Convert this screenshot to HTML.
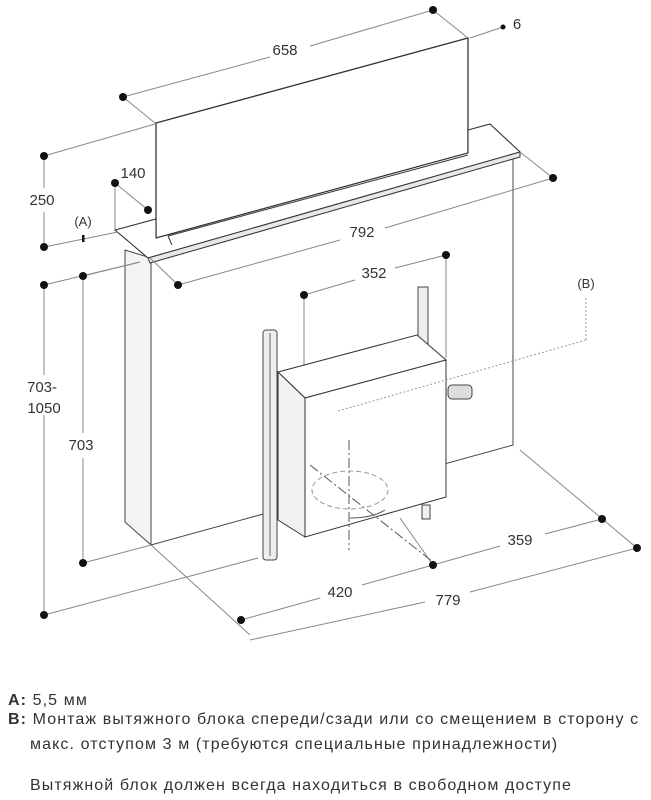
<!DOCTYPE html>
<html><head><meta charset="utf-8"><style>
body{margin:0;background:#fff;width:651px;height:800px;overflow:hidden;font-family:"Liberation Sans",sans-serif}
svg{position:absolute;left:0;top:0}
.t{position:absolute;left:8px;font-size:16px;letter-spacing:1.1px;color:#333;line-height:20px;white-space:nowrap}
</style></head><body>
<svg width="651" height="800" viewBox="0 0 651 800">
<!-- wall body -->
<polygon points="125,250 151,258 151,545 125,522" fill="#f3f3f3" stroke="#444"/>
<polygon points="151,258 513,158 513,445 151,545" fill="#fff" stroke="#444"/>
<!-- glass panel -->
<polygon points="156,123 468,38 468,153 156,238" fill="#fff" stroke="#333" stroke-width="1.3"/>
<!-- trim -->
<polygon points="115,230 156,219 156,238 468,153 468,130 490,124 520,152 148,258" fill="#fff" stroke="#333" stroke-width="1.1"/>
<polygon points="148,258 520,152 520,157 150,263" fill="#e8e8e8" stroke="#333" stroke-width="1"/>
<line x1="168" y1="236" x2="468" y2="155" stroke="#333"/>
<line x1="168" y1="236" x2="172" y2="245" stroke="#333"/>
<g stroke="#888" stroke-width="1" fill="none">
<line x1="123" y1="97" x2="270" y2="57"/><line x1="310" y1="46" x2="433" y2="10"/>
<line x1="123" y1="97" x2="155" y2="123"/><line x1="433" y1="10" x2="468" y2="38"/>
<line x1="470" y1="38" x2="503" y2="27"/>
<line x1="44" y1="156" x2="155" y2="124"/>
<line x1="44" y1="156" x2="44" y2="188"/><line x1="44" y1="212" x2="44" y2="247"/>
<line x1="44" y1="247" x2="118" y2="232"/>
<line x1="115" y1="183" x2="148" y2="210"/><line x1="115" y1="183" x2="115" y2="230"/>
<line x1="44" y1="285" x2="140" y2="262"/><line x1="83" y1="276" x2="140" y2="262"/>
<line x1="44" y1="285" x2="44" y2="375"/><line x1="44" y1="415" x2="44" y2="615"/>
<line x1="83" y1="276" x2="83" y2="433"/><line x1="83" y1="458" x2="83" y2="563"/>
<line x1="83" y1="563" x2="151" y2="545"/><line x1="44" y1="615" x2="258" y2="558"/>
<line x1="150" y1="258" x2="178" y2="285"/><line x1="178" y1="285" x2="340" y2="240"/><line x1="385" y1="228" x2="553" y2="178"/><line x1="520" y1="152" x2="553" y2="178"/>
<line x1="304" y1="295" x2="304" y2="398"/><line x1="304" y1="295" x2="355" y2="280"/><line x1="395" y1="268" x2="446" y2="255"/><line x1="446" y1="255" x2="446" y2="358"/>
<line x1="151" y1="545" x2="250" y2="635"/>
<line x1="241" y1="620" x2="320" y2="598"/><line x1="362" y1="585" x2="433" y2="565"/>
<line x1="433" y1="565" x2="500" y2="546"/><line x1="545" y1="534" x2="602" y2="519"/>
<line x1="520" y1="450" x2="637" y2="548"/>
<line x1="250" y1="640" x2="425" y2="602"/><line x1="470" y1="592" x2="637" y2="548"/>
<line x1="400" y1="518" x2="433" y2="565"/>
</g>
<g stroke="#999" stroke-width="1" fill="none" stroke-dasharray="2,2">
<line x1="586" y1="298" x2="586" y2="340"/><line x1="586" y1="340" x2="338" y2="411"/>
</g>
<!-- right rail -->
<rect x="418" y="287" width="10" height="60" fill="#eee" stroke="#444"/>
<!-- motor box -->
<polygon points="278,372 417,335 446,360 305,398" fill="#fff" stroke="#333"/>
<polygon points="278,372 305,398 305,537 278,520" fill="#f1f1f1" stroke="#333"/>
<polygon points="305,398 446,360 446,497 305,537" fill="#fff" stroke="#333"/>
<line x1="338" y1="411" x2="446" y2="380" stroke="#999" stroke-dasharray="2,2"/>
<rect x="448" y="385" width="24" height="14" rx="4" fill="#ddd" stroke="#444"/>
<rect x="422" y="505" width="8" height="14" fill="#eee" stroke="#444"/>
<!-- left rail -->
<rect x="263" y="330" width="14" height="230" rx="3" fill="#eee" stroke="#444"/>
<line x1="270" y1="333" x2="270" y2="556" stroke="#666"/>
<g stroke="#555" fill="none" stroke-dasharray="10,3,2,3">
<line x1="349" y1="440" x2="349" y2="550"/><line x1="310" y1="465" x2="433" y2="562"/>
</g>
<ellipse cx="350" cy="490" rx="38" ry="19" fill="none" stroke="#999" stroke-dasharray="5,3"/>
<path d="M350 518 Q372 518 385 510" fill="none" stroke="#555"/>
<g fill="#111">
<circle cx="123" cy="97" r="4"/><circle cx="433" cy="10" r="4"/><circle cx="503" cy="27" r="2.5"/>
<circle cx="44" cy="156" r="4"/><circle cx="44" cy="247" r="4"/>
<circle cx="115" cy="183" r="4"/><circle cx="148" cy="210" r="4"/>
<circle cx="44" cy="285" r="4"/><circle cx="83" cy="276" r="4"/>
<circle cx="178" cy="285" r="4"/><circle cx="553" cy="178" r="4"/>
<circle cx="304" cy="295" r="4"/><circle cx="446" cy="255" r="4"/>
<circle cx="83" cy="563" r="4"/><circle cx="44" cy="615" r="4"/>
<circle cx="241" cy="620" r="4"/><circle cx="433" cy="565" r="4"/>
<circle cx="602" cy="519" r="4"/><circle cx="637" cy="548" r="4"/>
<rect x="82" y="235" width="2.5" height="7"/>
</g>
<g font-family="Liberation Sans,sans-serif" font-size="15" fill="#333" text-anchor="middle">
<text x="285" y="55">658</text><text x="517" y="29">6</text>
<text x="133" y="178">140</text><text x="42" y="205">250</text>
<text x="83" y="226" font-size="13">(A)</text>
<text x="362" y="237">792</text><text x="374" y="278">352</text>
<text x="586" y="288" font-size="13">(B)</text>
<text x="42" y="392">703-</text><text x="44" y="413">1050</text>
<text x="81" y="450">703</text>
<text x="520" y="545">359</text><text x="340" y="597">420</text><text x="448" y="605">779</text>
</g>
</svg>
<div class="t" style="top:691px"><b>A:</b> 5,5 мм</div>
<div class="t" style="top:710px"><b>B:</b> Монтаж вытяжного блока спереди/сзади или со смещением в сторону с</div>
<div class="t" style="top:735px;left:30px">макс. отступом 3 м (требуются специальные принадлежности)</div>
<div class="t" style="top:776px;left:30px">Вытяжной блок должен всегда находиться в свободном доступе</div>
</body></html>
